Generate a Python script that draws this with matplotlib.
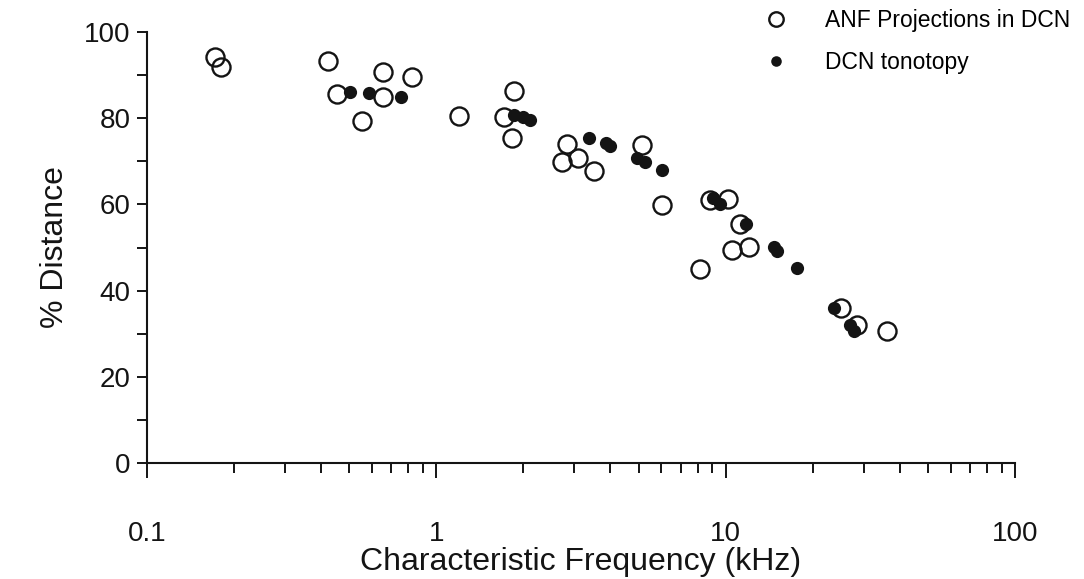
import numpy as np
import matplotlib
matplotlib.use('Agg')
import matplotlib.pyplot as plt
from matplotlib.ticker import LogLocator, NullFormatter, FixedLocator, MultipleLocator

plt.rcParams['font.family'] = ['Liberation Sans', 'DejaVu Sans']

# ANF projections in DCN (open circles)
anf_cf = [0.172, 0.18, 0.423, 0.656, 0.826, 0.454, 0.656, 0.555, 1.20,
          1.86, 1.72, 1.83, 2.82, 2.71, 3.10, 3.52, 5.16, 6.01, 8.8, 10.2,
          11.2, 10.5, 12.0, 8.13, 25.0, 28.4, 36.1]
anf_dist = [94.2, 91.9, 93.3, 90.7, 89.6, 85.6, 84.9, 79.4, 80.5,
            86.3, 80.3, 75.4, 74.0, 69.8, 70.8, 67.7, 73.8, 59.9, 61.0, 61.3,
            55.5, 49.4, 50.1, 45.0, 36.0, 32.0, 30.6]

# DCN tonotopy (filled circles)
ton_cf = [0.504, 0.586, 0.757, 1.86, 1.99, 2.11, 3.38, 3.87, 3.97, 4.92,
          5.25, 6.05, 9.02, 9.53, 11.8, 14.7, 15.1, 17.6, 23.6, 26.9, 27.7]
ton_dist = [86.1, 85.8, 84.9, 80.7, 80.3, 79.6, 75.4, 74.2, 73.5, 70.8,
            69.8, 68.0, 61.5, 60.1, 55.5, 50.1, 49.2, 45.2, 36.0, 32.0, 30.6]

ink = '#141414'

fig = plt.figure(figsize=(10.84, 5.79), dpi=100)
ax = fig.add_axes([0.1356, 0.2003, 0.8007, 0.7444])

ax.plot(anf_cf, anf_dist, 'o', ms=13, mfc='none', mec=ink, mew=1.7,
        label='ANF Projections in DCN', clip_on=False)
ax.plot(ton_cf, ton_dist, 'o', ms=9.5, mfc=ink, mec=ink, mew=0,
        label='DCN tonotopy', clip_on=False)

ax.set_xscale('log')
ax.set_xlim(0.1, 100)
ax.set_ylim(0, 100)

ax.xaxis.set_major_locator(FixedLocator([0.1, 1, 10, 100]))
ax.set_xticklabels(['0.1', '1', '10', '100'])
ax.xaxis.set_minor_locator(LogLocator(base=10, subs=np.arange(2, 10)))
ax.xaxis.set_minor_formatter(NullFormatter())
ax.yaxis.set_major_locator(MultipleLocator(20))
ax.yaxis.set_minor_locator(MultipleLocator(10))

for s in ['top', 'right']:
    ax.spines[s].set_visible(False)
for s in ['left', 'bottom']:
    ax.spines[s].set_linewidth(1.5)
    ax.spines[s].set_color(ink)

ax.tick_params(axis='x', which='major', direction='out', length=11, width=1.4,
               pad=31, labelsize=20, colors=ink)
ax.tick_params(axis='x', which='minor', direction='out', length=7, width=1.4, colors=ink)
ax.tick_params(axis='y', which='major', direction='out', length=7, width=1.4,
               pad=5, labelsize=20, colors=ink)
ax.tick_params(axis='y', which='minor', direction='out', length=7, width=1.4, colors=ink)

ax.set_xlabel('Characteristic Frequency (kHz)', fontsize=23, color=ink, labelpad=0)
ax.set_ylabel('% Distance', fontsize=23, color=ink, labelpad=10)

leg = fig.legend(loc='upper left', bbox_to_anchor=(765 / 1084, 1 - 9 / 579),
                 frameon=False, fontsize=16.5, borderpad=0, borderaxespad=0,
                 handlelength=1.0, handletextpad=1.6, labelspacing=0.82,
                 markerscale=0.8)

fig.savefig('out.png', dpi=100, facecolor='white')
